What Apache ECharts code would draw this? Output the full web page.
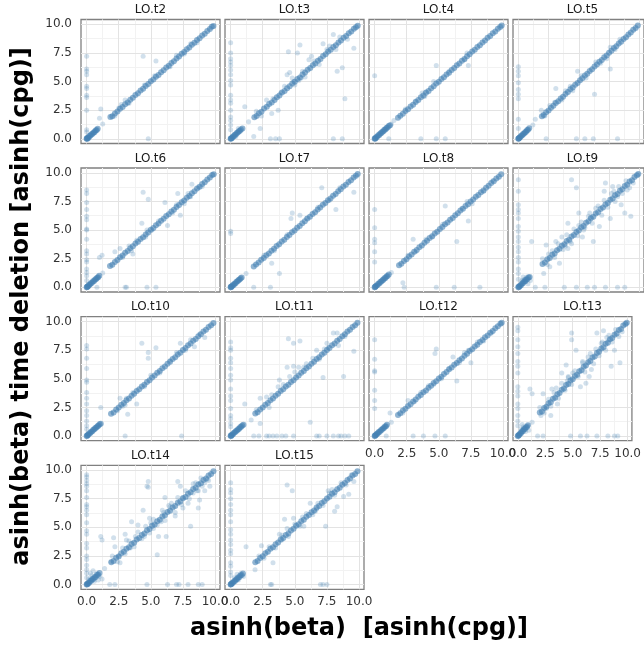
<!DOCTYPE html>
<html>
<head>
<meta charset="utf-8">
<script src="https://cdn.jsdelivr.net/npm/echarts@6/dist/echarts.min.js"></script>
<style>html,body{margin:0;padding:0;background:#fff;}#c{width:644px;height:646px;}</style>
</head>
<body>
<div id="c"></div>
<script>
const panelNames = ['LO.t2','LO.t3','LO.t4','LO.t5','LO.t6','LO.t7','LO.t8','LO.t9','LO.t10','LO.t11','LO.t12','LO.t13','LO.t14','LO.t15'];
const tickValues = [0, 2.5, 5, 7.5, 10];
const minorValues = [1.25, 3.75, 6.25, 8.75];
const xTitle = 'asinh(beta)  [asinh(cpg)]';
const yTitle = 'asinh(beta) time deletion [asinh(cpg)]';

// dense points along the diagonal
const core_t2 = [[0,0],[0.02,0.04],[0.05,0],[0.1,0.12],[0.15,0.1],[0.22,0.24],[0.3,0.28],[0.38,0.4],[0.46,0.44],[0.55,0.56],[0.62,0.6],[0.7,0.72],[0.78,0.76],[0.86,0.88],[1.85,1.9],[2.0,1.98],[2.2,2.22],[2.4,2.38],[2.6,2.62],[2.8,2.78],[3.0,3.02],[3.2,3.18],[3.4,3.42],[3.6,3.58],[3.8,3.82],[4.0,3.98],[4.2,4.22],[4.4,4.38],[4.6,4.62],[4.8,4.78],[5.0,5.02],[5.2,5.18],[5.4,5.42],[5.6,5.58],[5.8,5.82],[6.0,5.98],[6.2,6.22],[6.4,6.38],[6.6,6.62],[6.8,6.78],[7.0,7.02],[7.2,7.18],[7.4,7.42],[7.6,7.58],[7.8,7.82],[8.0,7.98],[8.2,8.22],[8.4,8.38],[8.6,8.62],[8.8,8.78],[9.0,9.02],[9.2,9.18],[9.4,9.42],[9.6,9.58],[9.75,9.78],[9.88,9.86]];
const core_t3 = [[0,0],[0.03,0.02],[0.06,0.05],[0.12,0.1],[0.18,0.2],[0.25,0.22],[0.32,0.35],[0.4,0.38],[0.48,0.5],[0.56,0.54],[0.64,0.66],[0.72,0.7],[0.8,0.82],[0.92,0.9],[1.85,1.88],[2.02,2.0],[2.2,2.24],[2.4,2.36],[2.6,2.64],[2.82,2.8],[3.0,3.04],[3.2,3.16],[3.42,3.4],[3.6,3.64],[3.8,3.78],[4.0,4.04],[4.2,4.18],[4.4,4.42],[4.6,4.58],[4.8,4.84],[5.0,4.98],[5.2,5.22],[5.4,5.36],[5.6,5.62],[5.8,5.8],[6.0,6.04],[6.2,6.18],[6.4,6.42],[6.6,6.58],[6.8,6.82],[7.0,6.98],[7.2,7.24],[7.4,7.38],[7.6,7.62],[7.8,7.78],[8.0,8.02],[8.2,8.18],[8.4,8.42],[8.6,8.58],[8.8,8.82],[9.0,8.98],[9.2,9.22],[9.4,9.38],[9.6,9.62],[9.76,9.74],[9.9,9.88]];
const core_t4 = [[0,0],[0.03,0.05],[0.07,0.02],[0.12,0.14],[0.2,0.18],[0.28,0.3],[0.36,0.34],[0.44,0.46],[0.52,0.5],[0.6,0.62],[0.68,0.66],[0.76,0.78],[0.84,0.82],[0.92,0.94],[1.0,0.98],[1.1,1.12],[1.2,1.18],[1.82,1.84],[2.0,2.02],[2.2,2.18],[2.4,2.42],[2.6,2.58],[2.8,2.82],[3.0,2.98],[3.2,3.22],[3.4,3.38],[3.6,3.62],[3.8,3.78],[4.0,4.02],[4.2,4.18],[4.4,4.42],[4.6,4.58],[4.8,4.82],[5.0,4.98],[5.2,5.22],[5.4,5.38],[5.6,5.62],[5.8,5.78],[6.0,6.02],[6.2,6.18],[6.4,6.42],[6.6,6.58],[6.8,6.82],[7.0,6.98],[7.2,7.22],[7.4,7.38],[7.6,7.62],[7.8,7.78],[8.0,8.02],[8.2,8.18],[8.4,8.42],[8.6,8.58],[8.8,8.82],[9.0,8.98],[9.2,9.22],[9.4,9.38],[9.6,9.62],[9.78,9.76],[9.9,9.9]];
const core_t5 = [[0,0],[0.02,0.03],[0.06,0.04],[0.1,0.12],[0.17,0.15],[0.24,0.26],[0.32,0.3],[0.4,0.42],[0.48,0.46],[0.56,0.58],[0.64,0.62],[0.72,0.74],[0.8,0.78],[0.9,0.92],[1.95,1.98],[2.1,2.08],[2.3,2.32],[2.5,2.48],[2.7,2.72],[2.9,2.88],[3.1,3.12],[3.3,3.28],[3.5,3.52],[3.7,3.68],[3.9,3.92],[4.1,4.08],[4.3,4.32],[4.5,4.48],[4.7,4.72],[4.9,4.88],[5.1,5.12],[5.3,5.28],[5.5,5.52],[5.7,5.68],[5.9,5.92],[6.1,6.08],[6.3,6.32],[6.5,6.48],[6.7,6.72],[6.9,6.88],[7.1,7.12],[7.3,7.28],[7.5,7.52],[7.7,7.68],[7.9,7.92],[8.1,8.08],[8.3,8.32],[8.5,8.48],[8.7,8.72],[8.9,8.88],[9.1,9.12],[9.3,9.28],[9.5,9.52],[9.7,9.68],[9.88,9.9]];
const core_t6 = [[0,0],[0.04,0.02],[0.06,0.07],[0.12,0.1],[0.18,0.2],[0.25,0.24],[0.33,0.35],[0.41,0.4],[0.5,0.52],[0.58,0.56],[0.66,0.68],[0.74,0.72],[0.82,0.84],[0.9,0.88],[0.98,1.0],[1.82,1.86],[2.0,1.98],[2.2,2.22],[2.4,2.38],[2.6,2.62],[2.8,2.78],[3.0,3.02],[3.2,3.18],[3.4,3.42],[3.6,3.58],[3.8,3.82],[4.0,3.98],[4.2,4.22],[4.4,4.38],[4.6,4.62],[4.8,4.78],[5.0,5.02],[5.2,5.18],[5.4,5.42],[5.6,5.58],[5.8,5.82],[6.0,5.98],[6.2,6.22],[6.4,6.38],[6.6,6.62],[6.8,6.78],[7.0,7.02],[7.2,7.18],[7.4,7.42],[7.6,7.58],[7.8,7.82],[8.0,7.98],[8.2,8.22],[8.4,8.38],[8.6,8.62],[8.8,8.78],[9.0,9.02],[9.2,9.18],[9.4,9.42],[9.6,9.58],[9.78,9.8],[9.9,9.88]];
const core_t7 = [[0,0],[0.02,0.05],[0.05,0.02],[0.1,0.1],[0.16,0.18],[0.23,0.21],[0.3,0.32],[0.38,0.36],[0.46,0.48],[0.54,0.52],[0.62,0.64],[0.7,0.68],[0.78,0.8],[0.86,0.85],[1.8,1.82],[1.98,2.0],[2.18,2.16],[2.38,2.4],[2.58,2.56],[2.78,2.8],[2.98,2.96],[3.18,3.2],[3.38,3.36],[3.58,3.6],[3.78,3.76],[3.98,4.0],[4.18,4.16],[4.38,4.4],[4.58,4.56],[4.78,4.8],[4.98,4.96],[5.18,5.2],[5.38,5.36],[5.58,5.6],[5.78,5.76],[5.98,6.0],[6.18,6.16],[6.38,6.4],[6.58,6.56],[6.78,6.8],[6.98,6.96],[7.18,7.2],[7.38,7.36],[7.58,7.6],[7.78,7.76],[7.98,8.0],[8.18,8.16],[8.38,8.4],[8.58,8.56],[8.78,8.8],[8.98,8.96],[9.18,9.2],[9.38,9.36],[9.58,9.6],[9.76,9.74],[9.9,9.9]];
const core_t8 = [[0,0],[0.03,0.02],[0.07,0.06],[0.12,0.14],[0.2,0.18],[0.28,0.3],[0.36,0.34],[0.44,0.46],[0.52,0.5],[0.6,0.62],[0.68,0.66],[0.76,0.78],[0.84,0.82],[0.92,0.94],[1.0,0.98],[1.1,1.12],[1.9,1.92],[2.08,2.06],[2.28,2.3],[2.48,2.46],[2.68,2.7],[2.88,2.86],[3.08,3.1],[3.28,3.26],[3.48,3.5],[3.68,3.66],[3.88,3.9],[4.08,4.06],[4.28,4.3],[4.48,4.46],[4.68,4.7],[4.88,4.86],[5.08,5.1],[5.28,5.26],[5.48,5.5],[5.68,5.66],[5.88,5.9],[6.08,6.06],[6.28,6.3],[6.48,6.46],[6.68,6.7],[6.88,6.86],[7.08,7.1],[7.28,7.26],[7.48,7.5],[7.68,7.66],[7.88,7.9],[8.08,8.06],[8.28,8.3],[8.48,8.46],[8.68,8.7],[8.88,8.86],[9.08,9.1],[9.28,9.26],[9.48,9.5],[9.68,9.66],[9.86,9.88]];
const core_t9 = [[0,0],[0.03,0.04],[0.08,0.05],[0.14,0.16],[0.22,0.18],[0.3,0.34],[0.38,0.36],[0.46,0.5],[0.56,0.52],[0.64,0.68],[0.74,0.7],[0.84,0.86],[0.94,0.9],[2.0,2.04],[2.2,2.16],[2.4,2.44],[2.6,2.56],[2.8,2.84],[3.0,2.96],[3.2,3.24],[3.4,3.36],[3.6,3.64],[3.8,3.76],[4.0,4.04],[4.2,4.16],[4.4,4.44],[4.6,4.56],[4.8,4.84],[5.0,4.96],[5.2,5.24],[5.4,5.36],[5.6,5.64],[5.8,5.76],[6.0,6.04],[6.2,6.16],[6.4,6.44],[6.6,6.56],[6.8,6.84],[7.0,6.96],[7.2,7.24],[7.4,7.36],[7.6,7.64],[7.8,7.76],[8.0,8.04],[8.2,8.16],[8.4,8.44],[8.6,8.56],[8.8,8.84],[9.0,8.96],[9.2,9.24],[9.4,9.36],[9.6,9.64],[9.8,9.78],[9.92,9.9]];
const core_t10 = [[0,0],[0.04,0.03],[0.07,0.08],[0.13,0.11],[0.2,0.22],[0.28,0.26],[0.36,0.38],[0.44,0.42],[0.52,0.54],[0.6,0.58],[0.68,0.7],[0.76,0.74],[0.84,0.86],[0.92,0.9],[1.0,1.02],[1.1,1.08],[1.9,1.94],[2.1,2.06],[2.3,2.32],[2.5,2.48],[2.7,2.72],[2.9,2.88],[3.1,3.12],[3.3,3.28],[3.5,3.52],[3.7,3.68],[3.9,3.92],[4.1,4.08],[4.3,4.32],[4.5,4.48],[4.7,4.72],[4.9,4.88],[5.1,5.12],[5.3,5.28],[5.5,5.52],[5.7,5.68],[5.9,5.92],[6.1,6.08],[6.3,6.32],[6.5,6.48],[6.7,6.72],[6.9,6.88],[7.1,7.12],[7.3,7.28],[7.5,7.52],[7.7,7.68],[7.9,7.92],[8.1,8.08],[8.3,8.32],[8.5,8.48],[8.7,8.72],[8.9,8.88],[9.1,9.12],[9.3,9.28],[9.5,9.52],[9.7,9.68],[9.88,9.88]];
const core_t11 = [[0,0],[0.02,0.04],[0.06,0.03],[0.11,0.13],[0.18,0.16],[0.26,0.28],[0.34,0.32],[0.42,0.44],[0.5,0.48],[0.58,0.6],[0.66,0.64],[0.74,0.76],[0.82,0.8],[0.9,0.92],[1.0,0.98],[1.92,1.96],[2.1,2.08],[2.3,2.32],[2.5,2.48],[2.7,2.72],[2.9,2.88],[3.1,3.12],[3.3,3.28],[3.5,3.52],[3.7,3.68],[3.9,3.92],[4.1,4.08],[4.3,4.32],[4.5,4.48],[4.7,4.72],[4.9,4.88],[5.1,5.12],[5.3,5.28],[5.5,5.52],[5.7,5.68],[5.9,5.92],[6.1,6.08],[6.3,6.32],[6.5,6.48],[6.7,6.72],[6.9,6.88],[7.1,7.12],[7.3,7.28],[7.5,7.52],[7.7,7.68],[7.9,7.92],[8.1,8.08],[8.3,8.32],[8.5,8.48],[8.7,8.72],[8.9,8.88],[9.1,9.12],[9.3,9.28],[9.5,9.52],[9.7,9.68],[9.88,9.9]];
const core_t12 = [[0,0],[0.03,0.03],[0.06,0.07],[0.12,0.1],[0.18,0.2],[0.25,0.23],[0.32,0.34],[0.4,0.38],[0.48,0.5],[0.56,0.54],[0.64,0.66],[0.72,0.7],[0.8,0.82],[0.88,0.86],[0.96,0.98],[1.82,1.84],[2.0,1.98],[2.2,2.22],[2.4,2.38],[2.6,2.62],[2.8,2.78],[3.0,3.02],[3.2,3.18],[3.4,3.42],[3.6,3.58],[3.8,3.82],[4.0,3.98],[4.2,4.22],[4.4,4.38],[4.6,4.62],[4.8,4.78],[5.0,5.02],[5.2,5.18],[5.4,5.42],[5.6,5.58],[5.8,5.82],[6.0,5.98],[6.2,6.22],[6.4,6.38],[6.6,6.62],[6.8,6.78],[7.0,7.02],[7.2,7.18],[7.4,7.42],[7.6,7.58],[7.8,7.82],[8.0,7.98],[8.2,8.22],[8.4,8.38],[8.6,8.62],[8.8,8.78],[9.0,9.02],[9.2,9.18],[9.4,9.42],[9.6,9.58],[9.8,9.8],[9.9,9.9]];
const core_t13 = [[0,0],[0.04,0.02],[0.08,0.09],[0.14,0.12],[0.22,0.25],[0.3,0.27],[0.38,0.41],[0.47,0.44],[0.55,0.58],[0.64,0.61],[0.72,0.75],[0.82,0.79],[0.92,0.95],[2.0,2.06],[2.2,2.15],[2.4,2.45],[2.6,2.55],[2.8,2.85],[3.0,2.95],[3.2,3.25],[3.4,3.35],[3.6,3.65],[3.8,3.75],[4.0,4.05],[4.2,4.15],[4.4,4.45],[4.6,4.55],[4.8,4.85],[5.0,4.95],[5.2,5.25],[5.4,5.35],[5.6,5.65],[5.8,5.75],[6.0,6.05],[6.2,6.15],[6.4,6.45],[6.6,6.55],[6.8,6.85],[7.0,6.95],[7.2,7.25],[7.4,7.35],[7.6,7.65],[7.8,7.75],[8.0,8.05],[8.2,8.15],[8.4,8.45],[8.6,8.55],[8.8,8.85],[9.0,8.95],[9.2,9.25],[9.4,9.35],[9.6,9.65],[9.8,9.78],[9.92,9.9]];
const core_t14 = [[0,0],[0.03,0.05],[0.07,0.03],[0.12,0.15],[0.2,0.17],[0.28,0.31],[0.36,0.33],[0.44,0.48],[0.53,0.5],[0.62,0.65],[0.7,0.67],[0.8,0.83],[0.9,0.87],[1.0,1.02],[1.92,1.96],[2.1,2.06],[2.3,2.34],[2.5,2.46],[2.7,2.74],[2.9,2.86],[3.1,3.14],[3.3,3.26],[3.5,3.54],[3.7,3.66],[3.9,3.94],[4.1,4.06],[4.3,4.34],[4.5,4.46],[4.7,4.74],[4.9,4.86],[5.1,5.14],[5.3,5.26],[5.5,5.54],[5.7,5.66],[5.9,5.94],[6.1,6.06],[6.3,6.34],[6.5,6.46],[6.7,6.74],[6.9,6.86],[7.1,7.14],[7.3,7.26],[7.5,7.54],[7.7,7.66],[7.9,7.94],[8.1,8.06],[8.3,8.34],[8.5,8.46],[8.7,8.74],[8.9,8.86],[9.1,9.14],[9.3,9.26],[9.5,9.54],[9.7,9.66],[9.88,9.9]];
const core_t15 = [[0,0],[0.02,0.03],[0.06,0.05],[0.11,0.13],[0.18,0.16],[0.26,0.29],[0.34,0.32],[0.42,0.45],[0.5,0.48],[0.58,0.61],[0.67,0.64],[0.76,0.79],[0.86,0.83],[0.96,0.98],[1.92,1.95],[2.1,2.07],[2.3,2.33],[2.5,2.47],[2.7,2.73],[2.9,2.87],[3.1,3.13],[3.3,3.27],[3.5,3.53],[3.7,3.67],[3.9,3.93],[4.1,4.07],[4.3,4.33],[4.5,4.47],[4.7,4.73],[4.9,4.87],[5.1,5.13],[5.3,5.27],[5.5,5.53],[5.7,5.67],[5.9,5.93],[6.1,6.07],[6.3,6.33],[6.5,6.47],[6.7,6.73],[6.9,6.87],[7.1,7.13],[7.3,7.27],[7.5,7.53],[7.7,7.67],[7.9,7.93],[8.1,8.07],[8.3,8.33],[8.5,8.47],[8.7,8.73],[8.9,8.87],[9.1,9.13],[9.3,9.27],[9.5,9.53],[9.7,9.67],[9.88,9.9]];

// scattered points away from / around the diagonal
const off_t2 = [[0,7.2],[0,6.1],[0,5.9],[0,5.6],[0,4.6],[0,4.4],[0,3.8],[0,3.6],[0,2.5],[0,0.8],[0,0.6],[1.0,1.8],[1.1,2.6],[1.25,1.3],[4.4,7.2],[5.4,6.8],[4.8,0],[2.7,3.0],[3.0,3.4],[2.2,2.0],[2.5,2.7],[3.3,3.1],[5.3,5.5],[7.0,7.3],[7.6,7.4],[8.1,8.3],[8.6,8.4],[6.5,6.3],[4.5,4.7]];
const off_t3 = [[0,8.4],[0,7.5],[0,7.0],[0,6.7],[0,6.4],[0,6.0],[0,5.6],[0,5.1],[0,4.7],[0,3.8],[0,3.4],[0,3.1],[0,2.5],[0,1.9],[0,1.6],[0,1.2],[0,0.8],[4.5,7.6],[5.2,7.5],[5.4,8.2],[6.1,6.9],[6.3,7.2],[5.3,5.1],[4.6,5.8],[4.4,5.6],[2.8,3.4],[1.1,2.8],[2.3,0.9],[1.8,0.2],[3.1,0],[3.5,0],[3.8,0],[8.0,0],[8.7,0],[8.9,3.5],[8.3,5.9],[8.7,6.2],[9.6,7.9],[8.0,9.1],[7.2,8.3],[7.5,7.8],[3.3,3.5],[3.2,2.2],[3.7,2.5],[4.8,5.3],[5.0,4.7],[5.6,5.9],[5.8,5.4],[4.2,4.6],[3.9,4.0],[6.5,6.8],[6.9,6.5],[7.7,8.1],[8.2,7.8],[8.5,8.9],[9.1,8.7],[2.4,2.0],[2.0,2.4],[1.4,1.5],[0.6,0.9],[0.4,0.2],[5.5,5.3],[4.9,5.0]];
const off_t4 = [[0,5.5],[1.3,1.3],[1.1,0],[4.8,6.4],[3.6,0],[4.8,0],[5.5,0],[7.3,6.4],[7.2,7.5],[4.6,5.0],[3.7,4.0],[1.5,1.6],[2.4,2.6],[3.2,3.3],[4.0,4.1],[5.8,5.9],[7.0,6.9],[3.9,3.7]];
const off_t5 = [[0,6.3],[0,5.9],[0,5.5],[0,4.9],[0,4.3],[0,3.9],[0,3.5],[0,1.7],[0,0.9],[2.3,0],[4.8,0],[5.5,0],[6.2,0],[8.2,0],[3.1,4.4],[1.9,2.5],[4.9,5.9],[6.3,3.9],[7.6,6.1],[7.3,7.0],[7.6,8.0],[1.2,1.2],[1.4,1.7],[2.6,2.9],[3.0,3.2],[3.6,3.4],[4.3,4.6],[4.5,4.2],[5.2,5.5],[6.4,6.7],[6.8,6.6],[8.0,7.8],[8.4,8.7],[2.2,2.0],[3.9,4.2],[5.6,5.3]];
const off_t6 = [[0,8.5],[0,8.2],[0,7.4],[0,6.8],[0,6.2],[0,5.9],[0,5.1],[0,5.0],[0,4.2],[0,3.2],[0,2.9],[0,2.4],[0,2.2],[0,1.6],[0,1.3],[0,1.0],[0,0.6],[0.8,0],[3.0,0],[3.1,0],[4.7,0],[5.4,0],[4.4,8.3],[4.8,7.7],[1.0,2.6],[1.2,2.8],[2.2,3.1],[2.6,3.4],[3.6,2.9],[6.1,7.4],[7.3,6.3],[7.1,8.2],[8.2,9.0],[8.7,8.7],[8.1,7.9],[6.3,5.4],[4.3,5.6],[5.1,5.0],[1.25,1.25],[3.3,3.6],[3.9,4.1],[4.6,4.4],[4.7,5.0],[5.6,5.8],[6.7,6.5],[7.0,7.2],[7.6,7.3],[7.9,8.2],[9.0,8.8],[3.5,3.2],[2.8,2.6]];
const off_t7 = [[0,4.9],[0,4.7],[1.2,1.2],[1.8,0],[3.1,0],[4.8,6.5],[4.7,6.0],[5.4,6.3],[7.1,8.7],[8.2,6.8],[9.6,8.3],[3.8,1.2],[3.2,2.1],[2.6,2.8],[3.4,3.2],[4.4,4.6],[5.9,6.0],[6.8,7.0],[7.7,7.6],[8.5,8.7]];
const off_t8 = [[0,6.8],[0,5.2],[0,4.2],[0,3.9],[0,3.1],[0,2.2],[2.2,0.4],[2.3,0],[4.8,0],[6.2,0],[8.2,0],[5.5,7.1],[6.4,4.0],[7.3,5.8],[3.0,4.2],[1.3,1.3],[2.6,2.8],[3.2,3.1],[4.0,4.2],[4.5,4.4],[5.3,5.5],[6.8,6.9],[7.2,7.5],[7.6,7.3],[8.5,8.4],[9.2,9.3]];
const off_t9 = [[0,9.4],[0,8.4],[0,7.2],[0,6.8],[0,6.5],[0,6.0],[0,5.3],[0,4.9],[0,4.4],[0,4.0],[0,3.5],[0,3.1],[0,2.6],[0,2.2],[0,1.6],[0,1.2],[0,0.7],[1.4,0],[2.2,0],[3.8,0],[4.8,0],[5.7,0],[6.3,0],[7.2,0],[8.2,0],[8.8,0],[0.3,0.6],[0.5,0.7],[0.6,0.5],[0.8,0.3],[0.7,0.9],[0.4,0.9],[1.0,0.6],[1.1,4.0],[2.3,3.7],[3.1,4.0],[4.1,5.6],[4.4,9.4],[4.8,8.7],[5.0,6.5],[5.4,5.0],[5.8,6.2],[6.6,7.1],[7.2,9.1],[7.8,8.8],[8.5,7.2],[8.8,6.5],[9.3,6.2],[2.6,1.8],[2.1,1.2],[3.4,2.1],[4.4,3.8],[6.2,4.0],[6.7,5.3],[7.6,6.0],[8.2,7.9],[7.1,8.4],[3.6,4.4],[4.1,3.4],[5.3,4.4],[2.0,2.5],[2.4,2.0],[2.8,3.2],[3.0,2.6],[3.3,3.8],[3.7,3.3],[4.0,4.6],[4.3,4.0],[4.6,5.1],[4.9,4.5],[5.2,5.7],[5.5,5.2],[5.9,6.5],[6.1,5.6],[6.4,6.9],[6.9,6.3],[7.1,7.6],[7.4,7.0],[7.7,8.2],[8.0,7.5],[8.3,8.8],[8.6,8.2],[8.9,9.3],[9.2,8.7],[9.5,9.1],[5.0,5.4],[6.0,6.1],[3.9,3.6],[2.5,2.9],[7.9,8.4],[9.0,8.5]];
const off_t10 = [[0,7.9],[0,7.6],[0,6.8],[0,5.9],[0,4.9],[0,4.7],[0,3.8],[0,3.3],[0,2.8],[0,2.2],[0,1.8],[0,1.3],[0,0.9],[0,0.6],[3.0,0],[7.4,0],[1.1,2.5],[2.6,3.3],[3.2,1.9],[4.3,8.1],[4.8,6.8],[4.8,7.3],[5.4,7.7],[3.9,2.8],[7.3,8.1],[8.4,7.8],[9.2,8.6],[2.8,2.6],[3.1,3.3],[3.6,3.8],[4.5,4.3],[5.0,5.3],[5.7,5.5],[6.5,6.6],[7.0,7.3],[7.7,7.5],[8.1,8.4],[8.8,8.9],[2.4,2.2],[3.0,2.7]];
const off_t11 = [[0,8.2],[0,7.7],[0,7.5],[0,6.8],[0,6.4],[0,5.9],[0,5.3],[0,4.9],[0,4.1],[0,3.5],[0,3.1],[0,2.4],[0,1.8],[0,1.5],[0,1.1],[0,0.8],[1.8,0],[2.2,0],[2.8,0],[3.0,0],[3.3,0],[3.6,0],[4.0,0],[4.3,0],[4.9,0],[6.7,0],[6.9,0],[7.5,0],[8.0,0],[8.4,0],[8.6,0],[8.9,0],[9.2,0],[4.5,8.5],[4.9,8.1],[5.4,8.3],[1.1,2.8],[2.3,1.1],[3.0,2.5],[6.2,1.2],[7.2,5.1],[8.8,5.2],[9.6,7.4],[4.4,6.0],[4.9,6.1],[5.3,6.0],[5.7,6.0],[3.8,4.9],[3.7,4.3],[2.3,3.3],[2.8,3.4],[8.0,9.0],[8.3,9.0],[7.5,8.1],[7.6,7.7],[8.4,7.9],[6.4,6.8],[6.7,7.5],[3.2,3.6],[4.1,4.5],[4.6,5.2],[5.0,5.6],[5.9,6.3],[6.9,6.7],[7.3,7.6],[8.9,8.7],[2.0,2.3],[1.6,1.4]];
const off_t12 = [[0,8.4],[0,6.7],[0,5.7],[0,5.6],[0,4.0],[0,3.1],[0,2.4],[1.2,2.0],[1.3,1.2],[0.9,0],[3.0,0],[3.8,0],[4.7,0],[5.5,0],[4.8,7.6],[4.7,7.2],[6.1,6.9],[6.4,4.8],[7.3,7.5],[7.5,6.4],[2.6,3.1],[3.1,3.0],[3.6,3.8],[4.2,4.4],[4.6,4.5],[5.2,5.0],[5.8,5.9],[6.6,6.4],[7.0,7.3],[8.0,8.2],[8.5,8.3],[9.1,9.0],[2.2,2.0]];
const off_t13 = [[0,9.5],[0,9.2],[0,8.4],[0,7.8],[0,7.2],[0,6.5],[0,6.1],[0,5.5],[0,4.3],[0,3.9],[0,3.5],[0,2.8],[0,2.4],[0,1.8],[0,1.3],[0,0.9],[1.8,0],[2.3,0],[4.8,0],[5.7,0],[6.3,0],[7.2,0],[8.2,0],[8.8,0],[9.1,0],[0.3,0.6],[0.5,0.8],[0.7,0.4],[0.9,0.9],[0.4,1.0],[1.0,0.5],[1.1,4.1],[1.3,3.7],[1.3,1.2],[2.3,3.7],[3.1,4.1],[3.6,2.8],[4.9,9.0],[4.9,8.4],[5.3,7.5],[6.7,5.8],[6.5,5.2],[7.2,9.0],[7.8,9.2],[7.6,8.1],[8.3,8.4],[8.8,7.5],[9.3,6.4],[8.5,6.1],[4.4,6.2],[4.0,5.5],[4.6,5.2],[5.7,4.3],[2.6,2.4],[2.1,1.8],[3.0,1.8],[5.9,6.4],[6.2,4.6],[2.0,2.5],[2.4,2.0],[2.8,3.2],[3.0,2.6],[3.3,3.8],[3.7,3.3],[4.0,4.6],[4.3,4.0],[4.6,5.1],[4.9,4.5],[5.2,5.7],[5.5,5.2],[5.9,6.5],[6.1,5.6],[6.4,6.9],[6.9,6.3],[7.1,7.6],[7.4,7.0],[7.7,8.2],[8.0,7.5],[8.3,8.8],[8.6,8.2],[8.9,9.3],[9.2,8.7],[9.5,9.1],[3.5,4.2],[4.5,4.8],[5.0,5.5],[6.6,7.2],[8.1,8.6]];
const off_t14 = [[0,9.6],[0,9.4],[0,9.1],[0,8.8],[0,8.6],[0,8.2],[0,7.6],[0,7.0],[0,6.8],[0,6.5],[0,6.1],[0,5.4],[0,4.7],[0,4.4],[0,3.6],[0,3.2],[0,2.5],[0,2.2],[0,1.7],[0,1.3],[0,1.0],[0,0.6],[1.8,0],[2.2,0],[4.7,0],[6.3,0],[7.0,0],[7.2,0],[7.9,0],[8.7,0],[9.0,0],[0.2,0.5],[0.4,0.8],[0.6,0.3],[0.8,1.0],[1.0,0.7],[1.2,0.5],[0.5,1.2],[1.4,1.4],[0.9,0.4],[0.3,1.0],[1.1,4.2],[1.2,3.9],[2.1,4.1],[1.9,2.0],[2.6,1.9],[3.0,4.4],[3.5,5.5],[4.0,5.2],[4.7,8.6],[4.8,9.0],[4.8,8.5],[4.4,6.5],[5.5,2.6],[5.6,4.2],[6.1,7.6],[6.2,4.2],[7.1,9.0],[7.3,8.6],[7.5,6.7],[8.1,5.1],[8.7,6.7],[8.7,8.2],[9.4,9.2],[9.2,8.2],[9.6,8.6],[8.3,8.0],[6.0,6.3],[6.5,6.8],[4.9,5.8],[3.8,4.2],[3.1,3.9],[3.4,3.2],[2.5,2.5],[2.2,3.3],[3.0,2.7],[5.2,4.9],[6.9,6.0],[7.5,7.6],[7.9,7.1],[8.8,7.4],[2.0,2.5],[2.4,2.0],[2.8,3.2],[3.3,3.8],[3.7,3.3],[4.0,4.6],[4.3,4.0],[4.6,5.1],[4.9,4.5],[5.2,5.7],[5.5,5.2],[5.9,6.5],[6.1,5.6],[6.4,6.9],[6.9,6.3],[7.1,7.6],[7.4,7.0],[7.7,8.2],[8.0,7.5],[8.3,8.8],[8.6,8.2],[8.9,9.3],[9.2,8.9],[9.5,9.1],[5.0,5.4],[4.5,4.2],[5.8,5.5],[6.6,7.1],[8.5,8.9],[9.0,8.6]];
const off_t15 = [[0,8.9],[0,8.3],[0,8.0],[0,7.5],[0,7.0],[0,6.5],[0,6.1],[0,5.5],[0,4.8],[0,4.4],[0,3.9],[0,3.5],[0,3.0],[0,2.7],[0,1.9],[0,1.6],[0,1.1],[0,0.8],[3.1,0],[3.2,0],[7.0,0],[7.2,0],[7.5,0],[0.3,0.6],[0.6,0.4],[0.8,1.0],[1.0,0.7],[0.5,0.9],[4.4,8.7],[4.8,8.2],[1.2,3.3],[2.4,3.4],[3.3,1.9],[1.9,1.3],[4.4,4.9],[5.7,5.1],[7.4,5.1],[8.1,6.4],[8.3,6.8],[7.6,8.2],[8.8,7.7],[9.2,7.9],[9.6,9.0],[6.7,6.6],[6.2,7.1],[4.9,5.8],[4.2,5.7],[4.0,3.9],[3.8,4.4],[2.2,2.5],[2.6,2.3],[3.0,3.3],[3.5,3.2],[4.0,4.3],[4.5,4.2],[5.0,5.3],[5.4,5.1],[5.9,6.2],[6.4,6.1],[6.8,7.1],[7.2,6.9],[7.7,8.0],[8.1,7.8],[8.6,8.9],[9.0,8.7],[9.4,9.6],[5.6,5.9],[6.6,6.4],[7.9,8.3]];

const coreData = [core_t2,core_t3,core_t4,core_t5,core_t6,core_t7,core_t8,core_t9,core_t10,core_t11,core_t12,core_t13,core_t14,core_t15];
const offData = [off_t2,off_t3,off_t4,off_t5,off_t6,off_t7,off_t8,off_t9,off_t10,off_t11,off_t12,off_t13,off_t14,off_t15];

const chart = echarts.init(document.getElementById('c'), null, {renderer:'canvas', width:644, height:646});
const colLeft = [81, 225, 369, 513];
const rowTop = [19.5, 168, 316.7, 465.3];
const PW = 139, PH = 124;
const COLOR = '#4682b4';
const grids = [], xAxes = [], yAxes = [], series = [], graphics = [];
const fmt = v => Number(v).toFixed(1);

panelNames.forEach((name, i) => {
  const c = i % 4, r = Math.floor(i / 4);
  const isLeft = c === 0, isBottom = (i >= 10);
  grids.push({left: colLeft[c], top: rowTop[r], width: PW, height: PH, show: true,
    backgroundColor: '#fff', borderColor: '#808080', borderWidth: 1.3, containLabel: false});
  xAxes.push({gridIndex: i, type: 'value', min: -0.44, max: 10.39,
    axisLine: {show: false}, splitLine: {show: false},
    axisTick: {show: isBottom, customValues: tickValues, length: 4, lineStyle: {color: '#333', width: 1}},
    axisLabel: {show: isBottom, customValues: tickValues, formatter: fmt, margin: 7,
      fontFamily: 'DejaVu Sans', fontSize: 12, color: '#333'}});
  yAxes.push({gridIndex: i, type: 'value', min: -0.41, max: 10.42,
    axisLine: {show: false}, splitLine: {show: false},
    axisTick: {show: isLeft, customValues: tickValues, length: 4, lineStyle: {color: '#333', width: 1}},
    axisLabel: {show: isLeft, customValues: tickValues, formatter: fmt, margin: 9,
      fontFamily: 'DejaVu Sans', fontSize: 12, color: '#333'}});
  const lines = [];
  minorValues.forEach(v => {
    lines.push({xAxis: v, lineStyle: {color: '#f2f2f2', width: 1, type: 'solid'}});
    lines.push({yAxis: v, lineStyle: {color: '#f2f2f2', width: 1, type: 'solid'}});
  });
  tickValues.forEach(v => {
    lines.push({xAxis: v, lineStyle: {color: '#e3e3e3', width: 1, type: 'solid'}});
    lines.push({yAxis: v, lineStyle: {color: '#e3e3e3', width: 1, type: 'solid'}});
  });
  series.push({type: 'scatter', xAxisIndex: i, yAxisIndex: i, data: [], z: 1, silent: true,
    markLine: {silent: true, symbol: ['none','none'], label: {show: false}, animation: false,
      emphasis: {disabled: true}, data: lines}});
  series.push({type: 'scatter', xAxisIndex: i, yAxisIndex: i, data: offData[i], z: 10,
    symbolSize: 5, silent: true, itemStyle: {color: COLOR, opacity: 0.25}});
  series.push({type: 'scatter', xAxisIndex: i, yAxisIndex: i, data: coreData[i], z: 11,
    symbolSize: 6, silent: true, itemStyle: {color: COLOR, opacity: 0.6}});
  graphics.push({type: 'text', x: colLeft[c] + PW / 2, y: rowTop[r] - 9.5, silent: true,
    style: {text: name, font: '12px "DejaVu Sans"', fill: '#1a1a1a', align: 'center', verticalAlign: 'middle'}});
});

graphics.push({type: 'text', x: 359, y: 628.5, silent: true,
  style: {text: xTitle, font: 'bold 24px "DejaVu Sans"', fill: '#000', align: 'center', verticalAlign: 'middle'}});
graphics.push({type: 'text', x: 22, y: 306.5, rotation: Math.PI / 2, silent: true,
  style: {text: yTitle, font: 'bold 24px "DejaVu Sans"', fill: '#000', align: 'center', verticalAlign: 'middle'}});

chart.setOption({
  animation: false,
  backgroundColor: '#fff',
  grid: grids, xAxis: xAxes, yAxis: yAxes, series: series,
  graphic: graphics
});
</script>
</body>
</html>
